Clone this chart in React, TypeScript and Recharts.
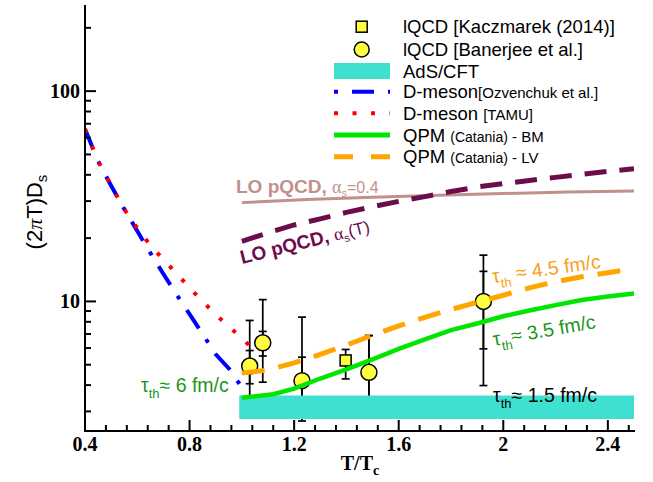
import React from 'react';
import { ComposedChart, Line, Scatter, XAxis, YAxis, ReferenceArea, ErrorBar, Legend } from 'recharts';

// axis ticks
const xMajorTicks = [0.4, 0.8, 1.2, 1.6, 2.0, 2.4];
const xMajorLabels = ['0.4', '0.8', '1.2', '1.6', '2', '2.4'];
const xMinorTicks = [0.48, 0.56, 0.64, 0.72, 0.88, 0.96, 1.04, 1.12, 1.28, 1.36, 1.44, 1.52, 1.68, 1.76, 1.84, 1.92, 2.08, 2.16, 2.24, 2.32, 2.48];
const yMajorTicks = [10, 100];
const yMajorLabels = ['10', '100'];
const yMinorTicks = [3, 4, 5, 6, 7, 8, 9, 20, 30, 40, 50, 60, 70, 80, 90, 200];

// D-meson [Ozvenchuk et al.]
const ozvT = [0.4, 0.45, 0.5, 0.55, 0.6, 0.65, 0.7, 0.75, 0.8, 0.85, 0.9, 0.95, 1.0];
const ozvDs = [66, 46.5, 35.5, 27.5, 21.6, 17.0, 13.5, 10.8, 8.7, 7.0, 5.6, 4.8, 3.9];

// D-meson [TAMU]
const tamuT = [0.4, 0.45, 0.5, 0.55, 0.6, 0.65, 0.7, 0.75, 0.8, 0.85, 0.9, 0.95, 1.0, 1.03];
const tamuDs = [66, 46.5, 35.5, 27.5, 22.3, 18.5, 15.8, 13.6, 11.6, 10.0, 8.65, 7.6, 6.7, 6.15];

// QPM (Catania) - BM
const bmT = [1.0, 1.12, 1.2, 1.3, 1.4, 1.5, 1.6, 1.7, 1.8, 1.9, 2.0, 2.1, 2.2, 2.3, 2.4, 2.5];
const bmDs = [3.48, 3.62, 3.85, 4.3, 4.75, 5.3, 5.95, 6.6, 7.3, 7.85, 8.5, 9.05, 9.6, 10.15, 10.55, 10.9];

// QPM (Catania) - LV
const lvT = [1.0, 1.1, 1.2, 1.3, 1.4, 1.5, 1.6, 1.7, 1.8, 1.9, 2.0, 2.1, 2.2, 2.3, 2.4, 2.5];
const lvDs = [4.56, 4.72, 5.1, 5.6, 6.2, 6.9, 7.65, 8.4, 9.15, 9.9, 10.7, 11.6, 12.4, 13.1, 13.7, 14.3];

// LO pQCD, alpha_s = 0.4
const loFixT = [1.0, 1.25, 1.5, 1.75, 2.0, 2.25, 2.5];
const loFixDs = [29.5, 30.5, 31.3, 32.0, 32.6, 33.1, 33.5];

// LO pQCD, alpha_s(T)
const loRunT = [1.0, 1.1, 1.2, 1.3, 1.4, 1.5, 1.6, 1.7, 1.8, 1.9, 2.0, 2.1, 2.2, 2.3, 2.4, 2.5];
const loRunDs = [19.3, 21.2, 23.1, 24.7, 26.5, 28.2, 29.9, 31.5, 33.3, 35.0, 36.3, 37.6, 38.9, 40.2, 41.5, 42.8];

// AdS/CFT band
const adsT = [0.99, 2.5];
const adsLow = 2.76;
const adsHigh = 3.57;

// lQCD [Banerjee et al.]
const banT = [1.03, 1.08, 1.23, 1.486, 1.924];
const banDs = [4.93, 6.36, 4.2, 4.6, 10.0];
const banInLo = [4.06, 5.5, 3.1, 3.1, 5.95];
const banInHi = [5.84, 7.2, 5.43, 6.88, 13.9];
const banOutLo = [3.3, 4.13, 2.7, 3.1, 3.98];
const banOutHi = [8.12, 10.2, 8.42, 6.88, 16.6];

// lQCD [Kaczmarek (2014)]
const kaczT = [1.397];
const kaczDs = [5.24];
const kaczLo = [4.28];
const kaczHi = [5.91];

const xy = (t: number[], v: number[]) => t.map((T, i) => ({ T, v: v[i] }));

const banData = banT.map((T, i) => ({
  T,
  v: banDs[i],
  eIn: [banDs[i] - banInLo[i], banInHi[i] - banDs[i]],
  eOut: [banDs[i] - banOutLo[i], banOutHi[i] - banDs[i]],
}));
const kaczData = kaczT.map((T, i) => ({
  T,
  v: kaczDs[i],
  e: [kaczDs[i] - kaczLo[i], kaczHi[i] - kaczDs[i]],
}));

const C = {
  band: '#40e0d0',
  blue: '#0000ff',
  red: '#ff0000',
  green: '#00e600',
  greenText: '#1b961b',
  orange: '#ffa500',
  orangeText: '#f7a21b',
  purple: '#6b0d4b',
  pink: '#c0918c',
  yellow: '#ffff40',
};

const sans = 'Liberation Sans, Arial, sans-serif';
const serif = 'Liberation Serif, Times New Roman, serif';

const isMajor = (list: number[], v: number) => list.findIndex((t) => Math.abs(t - v) < 1e-6);

const BottomTick = (props: any) => {
  const { x, y, payload } = props;
  const i = isMajor(xMajorTicks, payload.value);
  return (
    <g>
      <line x1={x} y1={y} x2={x} y2={y - (i >= 0 ? 11 : 6)} stroke="#000" strokeWidth={2} />
      {i >= 0 && (
        <text x={x} y={y + 20} textAnchor="middle" fontFamily={serif} fontWeight="bold" fontSize={20} fill="#000">
          {xMajorLabels[i]}
        </text>
      )}
    </g>
  );
};

const TopTick = (props: any) => {
  const { x, y, payload } = props;
  const i = isMajor(xMajorTicks, payload.value);
  return <line x1={x} y1={y} x2={x} y2={y + (i >= 0 ? 10 : 6)} stroke="#000" strokeWidth={2} />;
};

const LeftTick = (props: any) => {
  const { x, y, payload } = props;
  const i = isMajor(yMajorTicks, payload.value);
  return (
    <g>
      <line x1={x} y1={y} x2={x + (i >= 0 ? 11 : 6)} y2={y} stroke="#000" strokeWidth={2} />
      {i >= 0 && (
        <text x={x - 5} y={y + 7} textAnchor="end" fontFamily={serif} fontWeight="bold" fontSize={20} fill="#000">
          {yMajorLabels[i]}
        </text>
      )}
    </g>
  );
};

const RightTick = (props: any) => {
  const { x, y, payload } = props;
  const i = isMajor(yMajorTicks, payload.value);
  return <line x1={x} y1={y} x2={x - (i >= 0 ? 11 : 6)} y2={y} stroke="#000" strokeWidth={2} />;
};

const legendLabels = [
  ['lQCD [Kaczmarek (2014)]', ''],
  ['lQCD [Banerjee et al.]', ''],
  ['AdS/CFT', ''],
  ['D-meson', '[Ozvenchuk et al.]'],
  ['D-meson ', '[TAMU]'],
  ['QPM ', '(Catania)', ' - BM'],
  ['QPM ', '(Catania)', ' - LV'],
];

const LegendBox = () => {
  const rows = [26.7, 49.5, 71, 91.7, 113.3, 135, 156.7];
  const x0 = 334;
  const x1 = 390;
  const tx = 403;
  return (
    <svg width={653} height={175} style={{ display: 'block' }}>
      <rect x={356.2} y={rows[0] - 5.5} width={11} height={11} fill={C.yellow} stroke="#000" strokeWidth={1.5} />
      <circle cx={361.7} cy={rows[1]} r={7.5} fill={C.yellow} stroke="#000" strokeWidth={1.5} />
      <rect x={x0} y={rows[2] - 8} width={x1 - x0} height={16} fill={C.band} />
      <line x1={x0} y1={rows[3]} x2={x1} y2={rows[3]} stroke={C.blue} strokeWidth={4} strokeDasharray="4 14 22 14" />
      <line x1={x0} y1={rows[4]} x2={x1} y2={rows[4]} stroke={C.red} strokeWidth={4} strokeDasharray="4 14.5" />
      <line x1={x0} y1={rows[5]} x2={x1} y2={rows[5]} stroke={C.green} strokeWidth={5} />
      <line x1={x0} y1={rows[6]} x2={x1} y2={rows[6]} stroke={C.orange} strokeWidth={5} strokeDasharray="19 18" />
      {legendLabels.map((parts, i) => (
        <text key={i} x={tx} y={rows[i] + 6.5} fontFamily={sans} fontSize={18.5} fill="#000">
          {parts[0]}
          {parts[1] && <tspan fontSize={i >= 5 ? 14 : 15}>{parts[1]}</tspan>}
          {parts[2] && <tspan fontSize={i >= 5 ? 15 : 18.5}>{parts[2]}</tspan>}
        </text>
      ))}
    </svg>
  );
};

const Annotations = () => (
  <svg width={653} height={482} style={{ position: 'absolute', left: 0, top: 0, pointerEvents: 'none' }}>
    {/* axis titles */}
    <text transform="translate(42,212) rotate(-90)" textAnchor="middle" fontFamily={sans} fontSize={22} fill="#000">
      (2<tspan fontFamily={serif} fontStyle="italic">π</tspan>T)D<tspan fontSize={15} dy={5}>s</tspan>
    </text>
    <text x={360} y={470} textAnchor="middle" fontFamily={serif} fontWeight="bold" fontSize={20} fill="#000">
      T/T<tspan fontSize={14} dy={5}>c</tspan>
    </text>

    {/* LO pQCD labels */}
    <text x={236} y={193} fontFamily={sans} fill={C.pink}>
      <tspan fontWeight="bold" fontSize={19}>LO pQCD, </tspan>
      <tspan fontFamily={serif} fontSize={18}>α</tspan>
      <tspan fontSize={11} dy={4}>s</tspan>
      <tspan fontSize={16} dy={-4}>=0.4</tspan>
    </text>
    <text transform="translate(242,264) rotate(-14)" fontFamily={sans} fill={C.purple}>
      <tspan fontWeight="bold" fontSize={19}>LO pQCD, </tspan>
      <tspan fontFamily={serif} fontSize={18}>α</tspan>
      <tspan fontSize={11} dy={4}>s</tspan>
      <tspan fontSize={17} dy={-4}>(T)</tspan>
    </text>

    {/* thermalisation times */}
    <text transform="translate(493,283) rotate(-8)" fontFamily={sans} fontSize={19.5} fill={C.orangeText}>
      τ<tspan fontSize={13} dy={6}>th</tspan>
      <tspan dy={-6}> ≈ 4.5 fm/c</tspan>
    </text>
    <text transform="translate(494,346) rotate(-10)" fontFamily={sans} fontSize={19.5} fill={C.greenText}>
      τ<tspan fontSize={13} dy={6}>th</tspan>
      <tspan dy={-6}>≈ 3.5 fm/c</tspan>
    </text>
    <text x={141} y={392} fontFamily={sans} fontSize={19.5} fill={C.greenText}>
      τ<tspan fontSize={13} dy={6}>th</tspan>
      <tspan dy={-6}>≈ 6 fm/c</tspan>
    </text>
    <text x={493} y={402} fontFamily={sans} fontSize={19.5} fill="#000">
      τ<tspan fontSize={13} dy={6}>th</tspan>
      <tspan dy={-6}>≈ 1.5 fm/c</tspan>
    </text>
  </svg>
);

const Circle = (p: any) => <circle cx={p.cx} cy={p.cy} r={8} fill={C.yellow} stroke="#000" strokeWidth={1.5} />;
const Square = (p: any) => (
  <rect x={p.cx - 5.5} y={p.cy - 5.5} width={11} height={11} fill={C.yellow} stroke="#000" strokeWidth={1.5} />
);

export default function App() {
  const yDomain = [2.42, 254];
  const frame = { stroke: '#000', strokeWidth: 2, strokeLinecap: 'square' as const };
  const allX = [...xMajorTicks, ...xMinorTicks].sort((a, b) => a - b);
  const allY = [...yMinorTicks, ...yMajorTicks].sort((a, b) => a - b);
  const z: any = (n: number) => ({ zIndex: n });
  return (
    <div style={{ position: 'absolute', left: 0, top: 0, width: 653, height: 482, background: '#fff' }}>
      <ComposedChart width={653} height={482} margin={{ top: 6, right: 19, bottom: 11, left: 0 }}>
        <XAxis
          dataKey="T"
          type="number"
          domain={[0.4, 2.5]}
          ticks={allX}
          interval={0}
          tickSize={0}
          tickMargin={0}
          tickLine={false}
          tick={<BottomTick />}
          axisLine={frame}
          height={40}
          allowDataOverflow
        />
        <XAxis
          xAxisId="top"
          orientation="top"
          dataKey="T"
          type="number"
          domain={[0.4, 2.5]}
          ticks={allX}
          interval={0}
          tickSize={0}
          tickMargin={0}
          tickLine={false}
          tick={<TopTick />}
          axisLine={frame}
          height={0}
          allowDataOverflow
        />
        <YAxis
          type="number"
          scale="log"
          domain={yDomain}
          ticks={allY}
          interval={0}
          tickSize={0}
          tickMargin={0}
          tickLine={false}
          tick={<LeftTick />}
          axisLine={frame}
          width={85}
          allowDataOverflow
        />
        <YAxis
          yAxisId="right"
          orientation="right"
          type="number"
          scale="log"
          domain={yDomain}
          ticks={allY}
          interval={0}
          tickSize={0}
          tickMargin={0}
          tickLine={false}
          tick={<RightTick />}
          axisLine={frame}
          width={0}
          allowDataOverflow
        />

        <Scatter data={banData} dataKey="v" shape={Circle} isAnimationActive={false} {...z(300)}>
          <ErrorBar dataKey="eOut" direction="y" width={4} stroke="#000" strokeWidth={1.7} {...z(250)} />
          <ErrorBar dataKey="eIn" direction="y" width={4} stroke="#000" strokeWidth={1.7} {...z(250)} />
        </Scatter>
        <Scatter data={kaczData} dataKey="v" shape={Square} isAnimationActive={false} {...z(300)}>
          <ErrorBar dataKey="e" direction="y" width={4} stroke="#000" strokeWidth={1.7} {...z(250)} />
        </Scatter>

        <ReferenceArea
          x1={adsT[0]}
          x2={adsT[1]}
          y1={adsLow}
          y2={adsHigh}
          fill={C.band}
          fillOpacity={1}
          stroke="none"
          {...z(350)}
        />

        <Line data={xy(loFixT, loFixDs)} dataKey="v" type="linear" stroke={C.pink} strokeWidth={3} dot={false} isAnimationActive={false} {...z(400)} />
        <Line data={xy(loRunT, loRunDs)} dataKey="v" type="linear" stroke={C.purple} strokeWidth={5} strokeDasharray="22 13" dot={false} isAnimationActive={false} {...z(400)} />
        <Line data={xy(ozvT, ozvDs)} dataKey="v" type="linear" stroke={C.blue} strokeWidth={4} strokeDasharray="22 13 4 13" dot={false} isAnimationActive={false} {...z(400)} />
        <Line data={xy(tamuT, tamuDs)} dataKey="v" type="linear" stroke={C.red} strokeWidth={4} strokeDasharray="4 14" dot={false} isAnimationActive={false} {...z(400)} />
        <Line data={xy(lvT, lvDs)} dataKey="v" type="linear" stroke={C.orange} strokeWidth={5} strokeDasharray="23 14" dot={false} isAnimationActive={false} {...z(400)} />
        <Line data={xy(bmT, bmDs)} dataKey="v" type="linear" stroke={C.green} strokeWidth={4.5} dot={false} isAnimationActive={false} {...z(400)} />

        <Legend
          layout="vertical"
          align="center"
          verticalAlign="middle"
          content={<LegendBox />}
          wrapperStyle={{ left: 0, top: 0, width: 653, height: 175, pointerEvents: 'none' }}
        />
      </ComposedChart>
      <Annotations />
    </div>
  );
}
